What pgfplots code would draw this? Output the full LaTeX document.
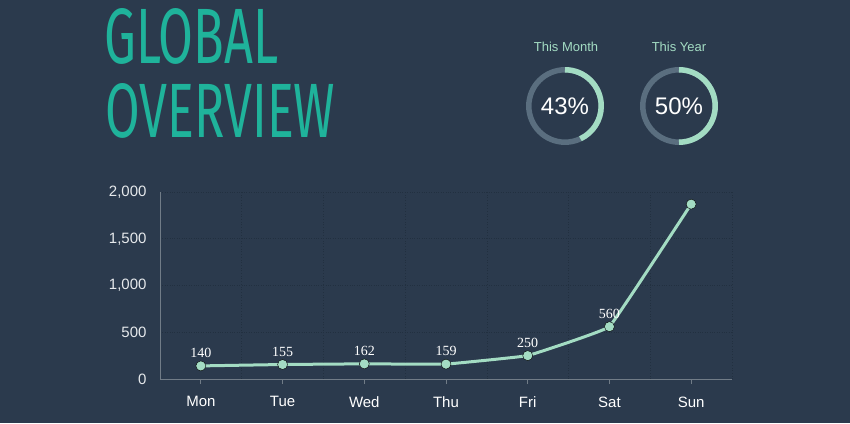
\documentclass[border=0pt]{standalone}
\usepackage{pgfplots}
\pgfplotsset{compat=1.18}
\usepackage{fontspec}
\setmainfont{Liberation Sans}
\newfontfamily\seriffont{Liberation Serif}
\newfontfamily\titlefont{Fira Sans}
\definecolor{bg}{HTML}{2B3A4D}
\definecolor{teal}{HTML}{1FB39B}
\definecolor{mint}{HTML}{A3DCC3}
\definecolor{ringgray}{HTML}{5A6E7F}
\definecolor{axisgray}{HTML}{717C87}
\definecolor{gridc}{HTML}{223040}
\definecolor{ticktext}{HTML}{E6E9EC}
\begin{document}
\begin{tikzpicture}[x=1pt,y=1pt]
\fill[bg] (0,0) rectangle (850,423);
% title
\node[anchor=south west,inner sep=0,text=teal] at (104,358) {\resizebox{174pt}{55pt}{\titlefont GLOBAL}};
\node[anchor=south west,inner sep=0,text=teal] at (105,284) {\resizebox{230pt}{54pt}{\titlefont OVERVIEW}};
% donuts
\node[text=mint,font=\fontsize{13}{13}\selectfont] at (566,376) {This Month};
\node[text=mint,font=\fontsize{13}{13}\selectfont] at (679,376) {This Year};
\draw[ringgray,line width=5.5pt] (565,317) circle[radius=36.2];
\draw[mint,line width=5.5pt] (565,317) ++(90:36.2) arc[start angle=90,end angle=-64.8,radius=36.2];
\draw[ringgray,line width=5.5pt] (679,317) circle[radius=36.2];
\draw[mint,line width=5.5pt] (679,317) ++(90:36.2) arc[start angle=90,end angle=-90,radius=36.2];
\node[text=white,font=\fontsize{24}{24}\selectfont] at (565,317) {43\%};
\node[text=white,font=\fontsize{24}{24}\selectfont] at (679,317) {50\%};
% chart
\begin{axis}[
  at={(160pt,44pt)}, anchor=south west,
  scale only axis, width=572pt, height=187pt,
  xmin=-0.5, xmax=6.5, ymin=0, ymax=2000,
  axis x line*=bottom, axis y line*=left,
  axis line style={-,draw=axisgray,line width=1pt},
  xtick={0,...,6}, xticklabels={Mon,Tue,Wed,Thu,Fri,Sat,Sun},
  ytick={0,500,1000,1500,2000},
  minor xtick={0.5,1.5,2.5,3.5,4.5,5.5,6.5},
  xminorgrids, ymajorgrids,
  grid style={gridc,dotted,line width=0.7pt},
  minor grid style={gridc,dotted,line width=0.7pt},
  tick align=outside, major tick length=5pt, minor tick length=0pt,
  tick style={axisgray,line width=1pt},
  ytick style={draw=none},
  xticklabel style={text=white,font=\fontsize{15}{15}\selectfont,yshift=-9pt},
  yticklabel style={text=ticktext,font=\fontsize{15}{15}\selectfont,xshift=-5pt},
  /pgf/number format/.cd, 1000 sep={,}, assume math mode=true,
  clip=false,
]
\addplot[mint,line width=3pt,smooth,tension=0.1,mark=none]
  coordinates {(0,140) (1,155) (2,162) (3,159) (4,250) (5,560) (6,1870)};
\addplot[only marks,mark=*,mark size=5pt,mark options={fill=mint,draw=none}]
  coordinates {(0,140) (1,155) (2,162) (3,159) (4,250) (5,560) (6,1870)};
\addplot[draw=none,mark=none,nodes near coords,point meta=explicit symbolic,
  nodes near coords style={anchor=south,inner sep=0pt,yshift=8pt,text=white,font=\seriffont\fontsize{14}{14}\selectfont}]
  coordinates {(0,140) [140] (1,155) [155] (2,162) [162] (3,159) [159] (4,250) [250] (5,560) [560]};
\end{axis}
\end{tikzpicture}
\end{document}
